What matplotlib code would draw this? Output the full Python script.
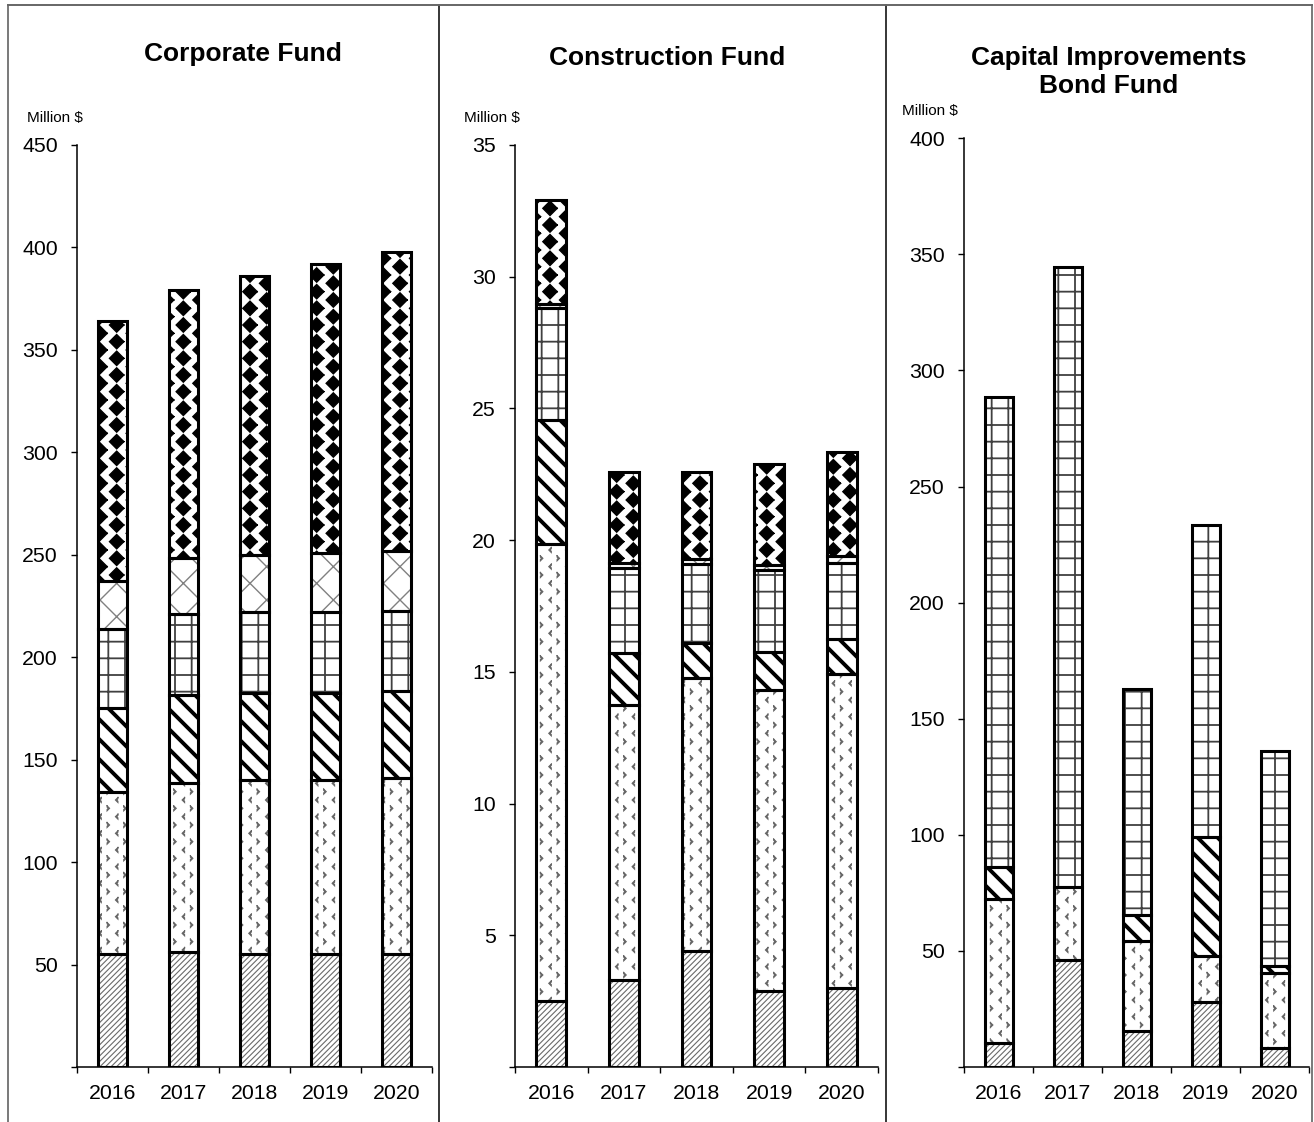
import numpy as np
import matplotlib
matplotlib.use("Agg")
import matplotlib.pyplot as plt
import matplotlib.hatch as mhatch
from matplotlib.path import Path
from matplotlib.lines import Line2D


# custom hatches: filled diamonds for "*", small chevrons for "o", denser "\\"
class Diamonds(mhatch.Shapes):
    size = 0.43
    filled = True

    def __init__(self, hatch, density):
        self.num_rows = hatch.count('*') * density
        self.shape_vertices = np.array([[0, 1], [1, 0], [0, -1], [-1, 0], [0, 1]], float)
        self.shape_codes = np.full(5, Path.LINETO, dtype=Path.code_type)
        self.shape_codes[0] = Path.MOVETO
        super().__init__(hatch, density)

    def set_vertices_and_codes(self, vertices, codes):
        super().set_vertices_and_codes(vertices, codes)
        vertices[:] = vertices[:, ::-1].copy()


class Chevrons(mhatch.HatchPatternBase):
    shape = np.array([[0.5, 1], [-0.5, 0], [0.5, -1], [0.5, -0.45],
                      [0.05, 0], [0.5, 0.45], [0.5, 1]], float)

    def __init__(self, hatch, density):
        n = hatch.count('o')
        self.parts = []
        if n:
            nr, nc = 2 * n * density, n * density
            h = 0.32 / nr
            for i in range(nr + 1):
                if i % 2 == 0:
                    cols = np.arange(nc + 1) / nc
                    sh = self.shape * [1, 1]
                else:
                    cols = (np.arange(nc) + 0.5) / nc
                    sh = self.shape * [-1, 1]
                for c in cols:
                    self.parts.append(sh * h + [c, i / nr])
        self.num_vertices = len(self.parts) * len(self.shape)

    def set_vertices_and_codes(self, vertices, codes):
        vertices[:] = np.concatenate(self.parts)
        c = np.full(len(self.shape), Path.LINETO, dtype=Path.code_type)
        c[0] = Path.MOVETO
        codes[:] = np.tile(c, len(self.parts))


class BoldSE(mhatch.SouthEastHatch):
    def __init__(self, hatch, density):
        self.num_lines = int(hatch.count('\\') * 10 + (hatch.count('x') + hatch.count('X')) * density)
        self.num_vertices = (self.num_lines + 1) * 2 if self.num_lines else 0


mhatch._hatch_types[:] = [BoldSE if t is mhatch.SouthEastHatch else
                          Diamonds if t is mhatch.Stars else
                          Chevrons if t is mhatch.SmallCircles else t
                          for t in mhatch._hatch_types]

plt.rcParams['font.family'] = ['Liberation Sans', 'DejaVu Sans']

years = ['2016', '2017', '2018', '2019', '2020']

# Corporate Fund segments (bottom to top), million $
corp_s1 = [55, 56, 55, 55, 55]
corp_s2 = [79, 82.5, 85, 85, 86]
corp_s3 = [41, 43, 42.5, 42.5, 42.5]
corp_s4 = [39, 39.5, 39.5, 39.5, 39]
corp_s5 = [23, 27.5, 28, 29, 29.5]
corp_s6 = [127, 130.5, 136, 141, 146]

# Construction Fund
cons_s1 = [2.5, 3.3, 4.4, 2.9, 3.0]
cons_s2 = [17.35, 10.45, 10.35, 11.4, 11.9]
cons_s3 = [4.7, 1.95, 1.35, 1.45, 1.35]
cons_s4 = [4.25, 3.25, 3.0, 3.1, 2.9]
cons_s5 = [0.15, 0.2, 0.2, 0.2, 0.25]
cons_s6 = [3.95, 3.45, 3.3, 3.85, 3.95]

# Capital Improvements Bond Fund
cap_s1 = [10.3, 46, 15.5, 28, 8.2]
cap_s2 = [62, 31.5, 38.8, 19.8, 32.3]
cap_s3 = [13.7, 0, 11.1, 51.2, 3.0]
cap_s4 = [202.5, 267, 97.6, 134.5, 92.5]
cap_s5 = [0, 0, 0, 0, 0]
cap_s6 = [0, 0, 0, 0, 0]

# hatch, hatch colour, hatch linewidth
styles = [('//////', '#6a6a6a', 0.8),
          ('o', '#666666', 0.7),
          ('\\', 'black', 2.8),
          ('+', '#404040', 1.3),
          ('x', '#808080', 1.0),
          ('*', 'black', 1.0)]

W, H = 1314, 1122
fig = plt.figure(figsize=(W / 100, H / 100), dpi=100)


def rect(l, r, top, bottom):
    return [l / W, 1 - bottom / H, (r - l) / W, (bottom - top) / H]


def panel(pos, series, ymax, step, title, title_xy, ml_xy):
    ax = fig.add_axes(pos)
    x = np.arange(len(years))
    bottom = np.zeros(len(years))
    for vals, (hatch, hc, hlw) in zip(series, styles):
        vals = np.array(vals, float)
        m = vals > 0
        bars = ax.bar(x[m], vals[m], 0.41, bottom=bottom[m], color='white',
                      edgecolor=hc, linewidth=0, hatch=hatch, zorder=2)
        for b in bars:
            if hasattr(b, 'set_hatch_linewidth'):
                b.set_hatch_linewidth(hlw)
        ax.bar(x[m], vals[m], 0.41, bottom=bottom[m], fill=False,
               edgecolor='black', linewidth=2.2, zorder=3)
        bottom += vals
    ax.set_xlim(-0.5, len(years) - 0.5)
    ax.set_ylim(0, ymax)
    yt = np.arange(0, ymax + step / 2, step)
    ax.set_yticks(yt)
    ax.set_yticklabels([''] + [f'{v:g}' for v in yt[1:]])
    ax.set_xticks(x)
    ax.set_xticklabels(years)
    ax.set_xticks(np.arange(len(years) + 1) - 0.5, minor=True)
    ax.tick_params(axis='x', which='major', length=0, pad=12, labelsize=15.3)
    ax.tick_params(axis='x', which='minor', length=4, width=1, direction='out')
    ax.tick_params(axis='y', length=4, width=1, pad=10, labelsize=15.3)
    for s in ['top', 'right']:
        ax.spines[s].set_visible(False)
    for s in ['left', 'bottom']:
        ax.spines[s].set_linewidth(1.1)
    fig.text(title_xy[0] / W, 1 - title_xy[1] / H, title, ha='center', va='center',
             fontsize=19, fontweight='bold', linespacing=1.25)
    fig.text(ml_xy[0] / W, 1 - ml_xy[1] / H, 'Million $', ha='left',
             va='center', fontsize=11)
    return ax


panel(rect(77.3, 432.3, 145, 1067),
      [corp_s1, corp_s2, corp_s3, corp_s4, corp_s5, corp_s6],
      450, 50, 'Corporate Fund', (243, 54), (27, 118))
panel(rect(515, 878, 145, 1067),
      [cons_s1, cons_s2, cons_s3, cons_s4, cons_s5, cons_s6],
      35, 5, 'Construction Fund', (667, 58), (464, 118))
panel(rect(964.3, 1309.3, 138.3, 1067),
      [cap_s1, cap_s2, cap_s3, cap_s4, cap_s5, cap_s6],
      400, 50, 'Capital Improvements\nBond Fund', (1109, 72), (902, 110.5))

# frame lines between the panels
for xp, c in [(8, '#555555'), (439.3, 'black'), (886, 'black'), (1311.7, '#555555')]:
    fig.add_artist(Line2D([xp / W, xp / W], [0, 1 - 5.3 / H], color=c,
                          linewidth=1.1, transform=fig.transFigure))
fig.add_artist(Line2D([8 / W, 1311.7 / W], [1 - 5.3 / H, 1 - 5.3 / H],
                      color='#666666', linewidth=1.4, transform=fig.transFigure))

fig.savefig('out.png', dpi=100)
